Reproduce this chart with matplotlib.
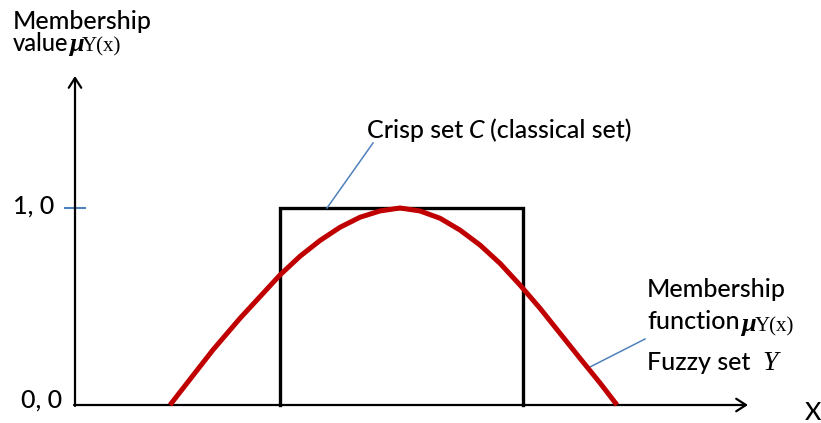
import matplotlib
matplotlib.use("Agg")
import matplotlib.pyplot as plt

plt.rcParams.update({
    "font.family": ["Lato", "DejaVu Sans"],
})

# membership function (x in drawing units, value 0..1)
curve_x = [170, 193, 213, 240, 260, 280, 300, 320, 340, 360, 380, 400,
           420, 440, 460, 480, 500, 520, 540, 560, 580, 600, 617]
curve_y = [0.0, 0.15, 0.28, 0.44, 0.55, 0.66, 0.755, 0.835, 0.902, 0.953, 0.985, 1.0,
           0.985, 0.948, 0.888, 0.812, 0.719, 0.609, 0.491, 0.364, 0.237, 0.112, 0.0]

# crisp (classical) set: 1 inside [left, right], 0 outside
crisp_left, crisp_right = 280, 523
crisp_level = 1.0

tick_values = [0.0, 1.0]
tick_labels = ["0, 0", "1, 0"]

RED = "#C00000"
BLUE = "#4F81BD"
FS = 18
SERIF = ["Liberation Serif", "DejaVu Serif"]


def py(p):
    # pixel row (from top) -> membership value
    return (405 - p) / 197


def label(x, p, s, **kw):
    kw.setdefault("fontsize", FS)
    kw.setdefault("fontweight", "medium")
    return ax.text(x, py(p), s, va="baseline", **kw)


def mu_label(x_mu, x_sub, p):
    ax.text(x_mu, py(p), "\u03bc", family=SERIF, style="italic", fontweight="bold",
            fontsize=19, va="baseline")
    ax.text(x_sub, py(p), "Y(x)", family=SERIF, fontsize=15, va="baseline")


fig = plt.figure(figsize=(8.21, 4.23), dpi=100)
ax = fig.add_axes([0, 0, 1, 1])
ax.set_xlim(0, 821)
ax.set_ylim(py(423), py(0))
ax.axis("off")

# axes with arrows
arrow = dict(arrowstyle="->,head_length=0.7,head_width=0.45", mutation_scale=10,
             color="black", lw=1.6, shrinkA=0, shrinkB=0)
ax.annotate("", xy=(748, 0), xytext=(74, 0), arrowprops=arrow)
ax.annotate("", xy=(75, py(76)), xytext=(75, -0.005), arrowprops=arrow)

# crisp set box
ax.plot([crisp_left, crisp_left, crisp_right, crisp_right],
        [0, crisp_level, crisp_level, 0], color="black", lw=2.4,
        solid_joinstyle="miter", zorder=2)

# fuzzy membership curve
ax.plot(curve_x, curve_y, color=RED, lw=3.6, solid_capstyle="butt",
        solid_joinstyle="round", zorder=3)

# tick at 1,0 and value labels
ax.plot([65, 85], [1.0, 1.0], color=BLUE, lw=1.5, zorder=1)
for v, lab in zip(tick_values, tick_labels):
    label(62 if v == 0 else 54, 408 if v == 0 else 214, lab, ha="right")

# y-axis title
label(13, 29, "Membership")
label(13, 51, "value", fontsize=17)
mu_label(69, 82, 51)

# x-axis label
label(805, 420, "X")

# crisp set annotation
ax.plot([327, 373], [1.0, py(143)], color=BLUE, lw=1.1)
label(367, 138, "Crisp set")
label(469, 138, "C", style="italic")
label(490, 138, "(classical set)")

# fuzzy set annotation
ax.plot([590, 645], [py(367), py(339)], color=BLUE, lw=1.1)
label(647, 297, "Membership")
label(647, 329, "function")
mu_label(741, 755, 331)
label(647, 370, "Fuzzy set")
ax.text(762, py(370), "Y", family=SERIF, style="italic", fontsize=20, va="baseline")

fig.savefig("out.png", dpi=100)
